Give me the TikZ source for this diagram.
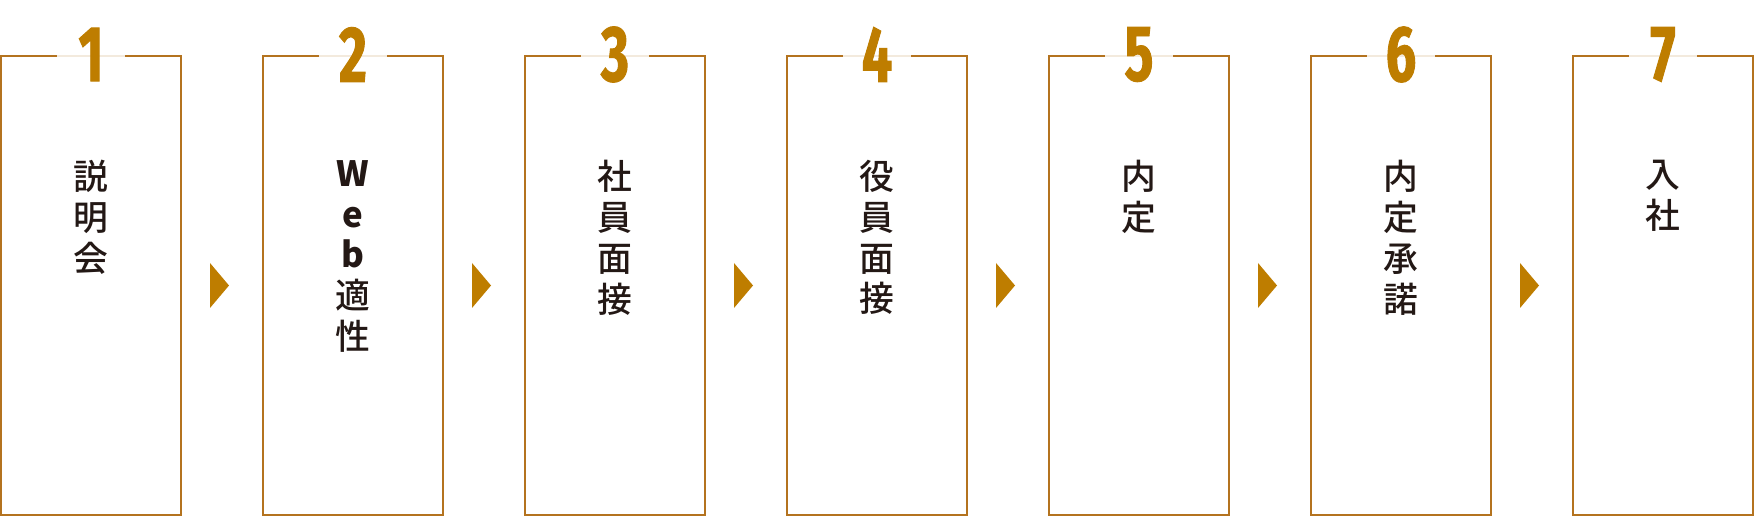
\documentclass[tikz,border=0pt]{standalone}
\usepackage{fontspec}
\setmainfont{Noto Sans CJK JP}[UprightFont={* Medium}]
\newfontfamily\numfont[FakeStretch=0.68,BoldFeatures={FakeBold=1.2}]{Fira Sans}
\usetikzlibrary{positioning}
\definecolor{fgold}{HTML}{BE7D00}
\definecolor{fline}{HTML}{B4731F}
\definecolor{fink}{HTML}{231815}

\begin{document}
\begin{tikzpicture}[
  stage/.style={
    draw=fline,
    line width=1.1pt,
    minimum width=3.6cm,
    minimum height=9.18cm,
    outer sep=0pt,
    inner sep=0pt
  },
  number/.style={
    fill=white,
    fill opacity=0.85,
    text opacity=1,
    text=fgold,
    minimum width=1.36cm,
    inner sep=0pt,
    yshift=0.03cm,
    font=\numfont\bfseries\fontsize{45}{45}\selectfont
  },
  stagetext/.style={
    align=center,
    inner sep=0pt,
    text=fink,
    font=\fontsize{19.8}{23.2}\selectfont
  },
  marker/.style={fill=fgold}
]

\useasboundingbox (-1.82,-4.63) rectangle (33.26,5.71);

\node[stage] (explain) {};
\node[stage, right=1.64cm of explain] (webtest) {};
\node[stage, right=1.64cm of webtest] (staffint) {};
\node[stage, right=1.64cm of staffint] (execint) {};
\node[stage, right=1.64cm of execint] (offer) {};
\node[stage, right=1.64cm of offer] (accept) {};
\node[stage, right=1.64cm of accept] (join) {};

% step numbers sit on the top edge
\node[number] (num1) at (explain.north) {1};
\node[number] (num2) at (webtest.north) {2};
\node[number] (num3) at (staffint.north) {3};
\node[number] (num4) at (execint.north) {4};
\node[number] (num5) at (offer.north) {5};
\node[number] (num6) at (accept.north) {6};
\node[number] (num7) at (join.north) {7};

\node[stagetext, below=2.08cm of explain.north] (txt1) {説\\明\\会};
\node[stagetext, below=2.08cm of webtest.north] (txt2) {\bfseries W\\\bfseries e\\\bfseries b\\適\\性};
\node[stagetext, below=2.08cm of staffint.north] (txt3) {社\\員\\面\\接};
\node[stagetext, below=2.08cm of execint.north] (txt4) {役\\員\\面\\接};
\node[stagetext, below=2.08cm of offer.north] (txt5) {内\\定};
\node[stagetext, below=2.08cm of accept.north] (txt6) {内\\定\\承\\諾};
\node[stagetext, below=2.08cm of join.north] (txt7) {入\\社};

% markers between the stages
\fill[marker] ([xshift=0.58cm,yshift=0.45cm]explain.east) -- ++(0.38,-0.45) -- ++(-0.38,-0.45) -- cycle;
\fill[marker] ([xshift=0.58cm,yshift=0.45cm]webtest.east) -- ++(0.38,-0.45) -- ++(-0.38,-0.45) -- cycle;
\fill[marker] ([xshift=0.58cm,yshift=0.45cm]staffint.east) -- ++(0.38,-0.45) -- ++(-0.38,-0.45) -- cycle;
\fill[marker] ([xshift=0.58cm,yshift=0.45cm]execint.east) -- ++(0.38,-0.45) -- ++(-0.38,-0.45) -- cycle;
\fill[marker] ([xshift=0.58cm,yshift=0.45cm]offer.east) -- ++(0.38,-0.45) -- ++(-0.38,-0.45) -- cycle;
\fill[marker] ([xshift=0.58cm,yshift=0.45cm]accept.east) -- ++(0.38,-0.45) -- ++(-0.38,-0.45) -- cycle;

\end{tikzpicture}
\end{document}
